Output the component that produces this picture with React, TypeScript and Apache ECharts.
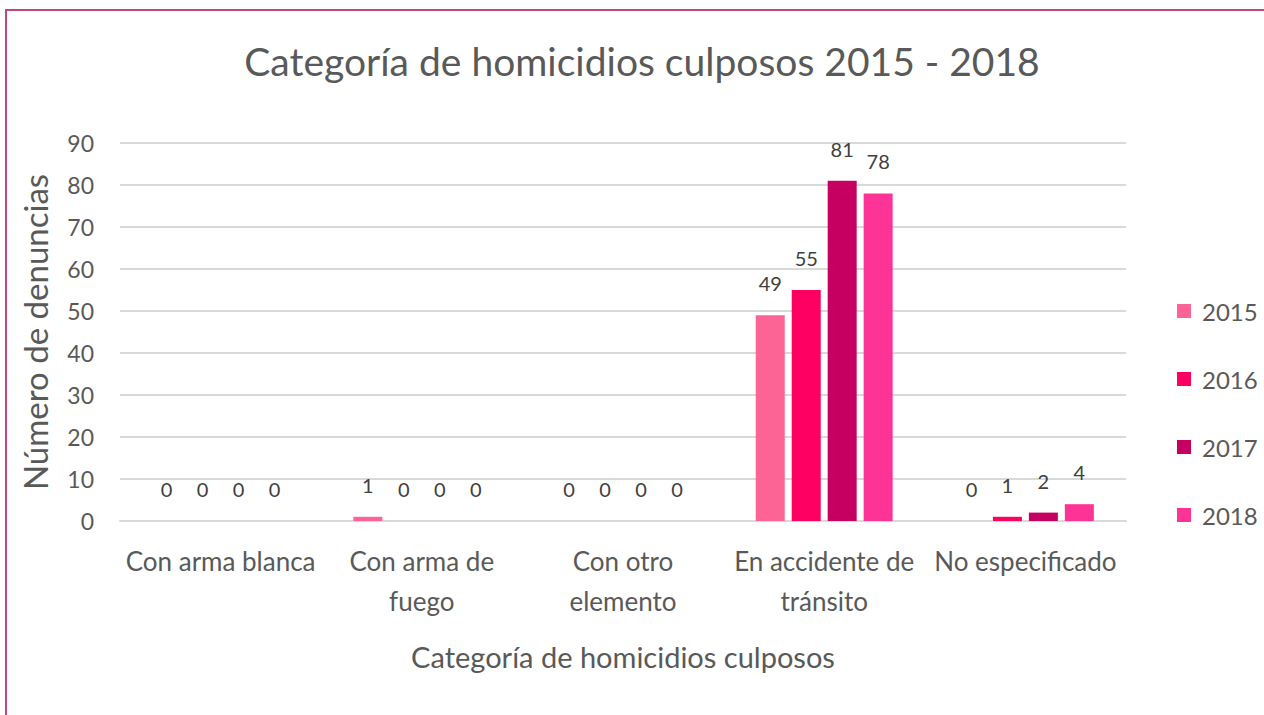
import React, { useEffect, useRef } from "react";
import * as echarts from "echarts";

const categories = [
  "Con arma blanca",
  "Con arma de fuego",
  "Con otro elemento",
  "En accidente de tránsito",
  "No especificado",
];
const categoryLabels = [
  "Con arma blanca",
  "Con arma de\nfuego",
  "Con otro\nelemento",
  "En accidente de\ntránsito",
  "No especificado",
];
const years = ["2015", "2016", "2017", "2018"];
const values2015 = [0, 1, 0, 49, 0];
const values2016 = [0, 0, 0, 55, 1];
const values2017 = [0, 0, 0, 81, 2];
const values2018 = [0, 0, 0, 78, 4];
const seriesValues = [values2015, values2016, values2017, values2018];
const colors = ["#FB6495", "#FE0062", "#C60060", "#FE3396"];
const yTicks = [0, 10, 20, 30, 40, 50, 60, 70, 80, 90];

const FONT = "Lato, 'Open Sans', sans-serif";
const TEXT = "#595959";

export default function App() {
  const ref = useRef<HTMLDivElement>(null);
  useEffect(() => {
    if (!ref.current) return;
    const chart = echarts.init(ref.current, null, { renderer: "svg" });
    chart.setOption({
      animation: false,
      backgroundColor: "#ffffff",
      textStyle: { fontFamily: FONT },
      title: {
        text: "Categoría de homicidios culposos 2015 - 2018",
        left: 637,
        textAlign: "center",
        top: 36,
        textStyle: { fontFamily: FONT, fontSize: 39, fontWeight: "normal", color: TEXT },
      },
      graphic: [
        {
          type: "rect",
          shape: { x: 6, y: 10, width: 1400, height: 900 },
          style: { fill: "none", stroke: "#C2457D", lineWidth: 2 },
          silent: true,
        },
      ],
      legend: {
        orient: "vertical",
        left: 1172,
        top: 294,
        itemWidth: 14,
        itemHeight: 14,
        itemGap: 44,
        icon: "rect",
        data: years,
        textStyle: { fontFamily: FONT, fontSize: 24, color: TEXT, padding: [0, 0, 0, 6] },
      },
      grid: { left: 120, right: 138, top: 143, bottom: 194 },
      xAxis: {
        type: "category",
        data: categories,
        name: "Categoría de homicidios culposos",
        nameLocation: "middle",
        nameGap: 121,
        nameTextStyle: { fontFamily: FONT, fontSize: 29, color: TEXT },
        axisLine: { show: true, lineStyle: { color: "#D9D9D9", width: 2 } },
        axisTick: { show: false },
        axisLabel: {
          formatter: (v: string) => categoryLabels[categories.indexOf(v)],
          fontFamily: FONT,
          fontSize: 26,
          lineHeight: 40,
          color: TEXT,
          margin: 20,
          interval: 0,
        },
      },
      yAxis: {
        type: "value",
        min: yTicks[0],
        max: yTicks[yTicks.length - 1],
        interval: 10,
        name: "Número de denuncias",
        nameLocation: "middle",
        nameGap: 69,
        nameTextStyle: { fontFamily: FONT, fontSize: 33, color: TEXT },
        axisLine: { show: false },
        axisTick: { show: false },
        axisLabel: { fontFamily: FONT, fontSize: 23, color: TEXT, margin: 26 },
        splitLine: { lineStyle: { color: "#D9D9D9", width: 2 } },
      },
      series: years.map((y, i) => ({
        name: y,
        type: "bar",
        data: seriesValues[i],
        barWidth: 29,
        barGap: "24%",
        itemStyle: { color: colors[i] },
        label: {
          show: true,
          position: "top",
          distance: 22,
          fontFamily: FONT,
          fontSize: 20,
          color: "#404040",
        },
      })),
    });
    return () => chart.dispose();
  }, []);
  return (
    <div
      ref={ref}
      style={{ position: "fixed", left: 0, top: 0, width: 1264, height: 715 }}
    />
  );
}
